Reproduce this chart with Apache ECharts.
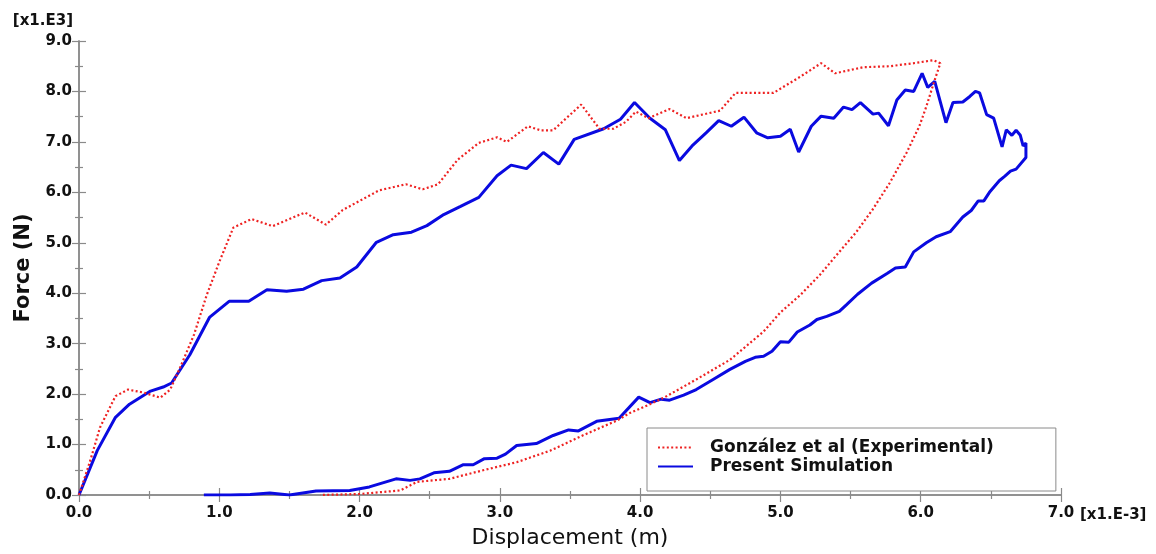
<!DOCTYPE html>
<html>
<head>
<meta charset="utf-8">
<title>Force - Displacement</title>
<script src="https://cdn.jsdelivr.net/npm/echarts@6/dist/echarts.min.js"></script>
<style>
  html, body { margin: 0; padding: 0; background: #fff; }
  #chart { width: 1156px; height: 554px; }
</style>
</head>
<body>
<div id="chart"></div>
<script>
// displacement in 1e-3 m, force in 1e3 N (path order, the curves loop back)
var expDisp = [0.00, 0.08, 0.15, 0.26, 0.35, 0.46, 0.58, 0.65, 0.72, 0.82, 0.91, 1.00, 1.10, 1.23, 1.38, 1.61, 1.76, 1.88,
  2.14, 2.33, 2.45, 2.56, 2.70, 2.85, 2.98, 3.05, 3.20, 3.29, 3.38, 3.58, 3.71, 3.81, 3.90, 3.97, 4.06, 4.21, 4.33,
  4.57, 4.68, 4.95, 5.14, 5.29, 5.39, 5.59, 5.78, 5.95, 6.09, 6.14,
  6.10, 6.04, 5.99, 5.90, 5.78, 5.66, 5.54, 5.42, 5.28, 5.14, 5.00, 4.88, 4.64, 4.40, 4.17, 4.07, 3.93, 3.83,
  3.59, 3.36, 3.12, 2.88, 2.64, 2.41, 2.29, 2.00, 1.72]
var expForce = [0.00, 0.68, 1.34, 1.96, 2.09, 2.03, 1.93, 2.09, 2.52, 3.18, 3.96, 4.62, 5.30, 5.47, 5.33, 5.60, 5.36, 5.65,
  6.04, 6.16, 6.06, 6.16, 6.65, 6.98, 7.09, 7.00, 7.31, 7.23, 7.23, 7.74, 7.26, 7.26, 7.40, 7.60, 7.47, 7.65, 7.47,
  7.62, 7.97, 7.97, 8.29, 8.56, 8.36, 8.48, 8.50, 8.56, 8.62, 8.56,
  8.23, 7.70, 7.31, 6.79, 6.19, 5.67, 5.21, 4.82, 4.36, 3.96, 3.62, 3.24, 2.68, 2.29, 1.93, 1.80, 1.63, 1.47,
  1.18, 0.88, 0.65, 0.49, 0.32, 0.26, 0.09, 0.02, 0.00]

var simDisp = [0.00, 0.13, 0.26, 0.36, 0.51, 0.60, 0.66, 0.79, 0.93, 1.07, 1.21, 1.34, 1.48, 1.60, 1.73, 1.86, 1.98,
  2.12, 2.24, 2.37, 2.48, 2.60, 2.72, 2.85, 2.98, 3.08, 3.19, 3.31, 3.42, 3.53, 3.74, 3.86, 3.96, 4.07, 4.18, 4.28,
  4.37, 4.47, 4.56, 4.65, 4.74, 4.83, 4.91, 5.00, 5.07, 5.13, 5.22, 5.29, 5.38, 5.45, 5.51, 5.57, 5.66, 5.70, 5.77,
  5.83, 5.89, 5.95, 6.01, 6.05, 6.10, 6.18, 6.23, 6.30, 6.35, 6.39, 6.42, 6.47, 6.52, 6.58, 6.61, 6.65, 6.68, 6.71,
  6.73, 6.75, 6.75,
  6.74, 6.68, 6.64, 6.60, 6.56, 6.49, 6.45, 6.41, 6.36, 6.30, 6.21, 6.11, 6.04, 5.95, 5.89, 5.82, 5.76, 5.65, 5.55,
  5.47, 5.42, 5.33, 5.26, 5.21, 5.12, 5.06, 5.00, 4.94, 4.88, 4.82, 4.75, 4.64, 4.52, 4.40, 4.31, 4.21, 4.15, 4.07,
  3.99, 3.85, 3.69, 3.56, 3.49, 3.38, 3.26, 3.12, 3.04, 2.98, 2.89, 2.81, 2.74, 2.64, 2.53, 2.43, 2.36, 2.26, 2.07,
  1.93, 1.69, 1.50, 1.36, 1.22, 1.08, 0.89]
var simForce = [0.00, 0.88, 1.54, 1.80, 2.06, 2.14, 2.22, 2.78, 3.52, 3.84, 3.84, 4.07, 4.04, 4.08, 4.25, 4.30, 4.52,
  5.01, 5.16, 5.21, 5.34, 5.56, 5.72, 5.90, 6.33, 6.54, 6.47, 6.79, 6.56, 7.05, 7.26, 7.45, 7.78, 7.47, 7.24, 6.63,
  6.92, 7.18, 7.42, 7.31, 7.49, 7.18, 7.08, 7.11, 7.25, 6.80, 7.31, 7.51, 7.47, 7.69, 7.64, 7.78, 7.55, 7.57, 7.32,
  7.83, 8.03, 8.00, 8.36, 8.08, 8.20, 7.38, 7.78, 7.79, 7.90, 8.00, 7.97, 7.54, 7.47, 6.90, 7.24, 7.13, 7.23, 7.13,
  6.92, 6.98, 6.69,
  6.69, 6.46, 6.42, 6.32, 6.23, 6.00, 5.83, 5.83, 5.64, 5.51, 5.22, 5.12, 5.00, 4.82, 4.52, 4.50, 4.39, 4.20, 3.98,
  3.77, 3.64, 3.54, 3.48, 3.37, 3.23, 3.03, 3.04, 2.85, 2.75, 2.73, 2.65, 2.49, 2.29, 2.09, 1.98, 1.88, 1.90, 1.83,
  1.94, 1.52, 1.46, 1.27, 1.29, 1.18, 1.02, 0.98, 0.81, 0.73, 0.72, 0.60, 0.60, 0.47, 0.44, 0.32, 0.29, 0.32, 0.16,
  0.09, 0.08, 0.00, 0.04, 0.01, 0.00, 0.00]

var seriesNames = ['González et al (Experimental)', 'Present Simulation']

function pairs (xs, ys) {
  return xs.map(function (x, i) { return [x, ys[i]] })
}

var FONT = 'DejaVu Sans'
var AXIS_GRAY = '#8a8a8a'

function frameAxis (extra) {
  var base = {
    type: 'value',
    axisLine: { show: true, lineStyle: { color: AXIS_GRAY, width: 1.5 } },
    axisTick: { show: true, inside: true, length: 7, lineStyle: { color: AXIS_GRAY, width: 1.2 } },
    minorTick: { show: true, splitNumber: 2, length: 4, lineStyle: { color: AXIS_GRAY, width: 1.2 } },
    splitLine: { show: false },
    minorSplitLine: { show: false },
    axisLabel: {
      color: '#111',
      fontFamily: FONT,
      fontWeight: 'bold',
      fontSize: 15,
      formatter: function (v) { return v.toFixed(1) }
    }
  }
  return Object.assign(base, extra)
}

var chart = echarts.init(document.getElementById('chart'))
chart.setOption({
  animation: false,
  backgroundColor: '#fff',
  grid: { left: 79, right: 95, top: 41, bottom: 56 },
  xAxis: [
    frameAxis({
      min: 0, max: 7, interval: 1,
      name: 'Displacement (m)',
      nameLocation: 'middle',
      nameGap: 32,
      nameTextStyle: { fontFamily: FONT, fontSize: 22, color: '#111' },
      axisLabel: {
        color: '#111', fontFamily: FONT, fontWeight: 'bold', fontSize: 15, margin: 11,
        formatter: function (v) { return v.toFixed(1) }
      }
    }),
    frameAxis({ min: 0, max: 7, interval: 1, position: 'top', axisLabel: { show: false } })
  ],
  yAxis: [
    frameAxis({
      min: 0, max: 9, interval: 1,
      name: 'Force (N)',
      nameLocation: 'middle',
      nameGap: 44,
      nameTextStyle: { fontFamily: FONT, fontSize: 21, fontWeight: 'bold', color: '#111' },
      axisLabel: {
        color: '#111', fontFamily: FONT, fontWeight: 'bold', fontSize: 15, margin: 7,
        formatter: function (v) { return v.toFixed(1) }
      }
    }),
    frameAxis({ min: 0, max: 9, interval: 1, position: 'right', axisLabel: { show: false } })
  ],
  legend: {
    orient: 'vertical',
    left: 647,
    top: 428,
    padding: [10, 62, 15, 10],
    itemGap: 0,
    itemWidth: 35,
    itemHeight: 12,
    backgroundColor: '#fff',
    borderColor: AXIS_GRAY,
    borderWidth: 1,
    borderRadius: 0,
    itemStyle: { opacity: 0 }, // line sample only, no marker
    textStyle: {
      fontFamily: FONT, fontWeight: 'bold', fontSize: 17, color: '#111',
      lineHeight: 19, padding: [0, 0, 0, 12]
    },
    data: seriesNames
  },
  graphic: [
    {
      type: 'text', right: 1156 - 73, top: 14,
      style: { text: '[x1.E3]', font: 'bold 15px "DejaVu Sans"', fill: '#111' }
    },
    {
      type: 'text', left: 1080, top: 508,
      style: { text: '[x1.E-3]', font: 'bold 15px "DejaVu Sans"', fill: '#111' }
    }
  ],
  series: [
    {
      name: seriesNames[0],
      type: 'line',
      data: pairs(expDisp, expForce),
      showSymbol: false,
      symbol: 'none',
      z: 3,
      lineStyle: { color: '#ee2222', width: 2.2, type: [2, 2.4] },
      itemStyle: { color: '#ee2222' }
    },
    {
      name: seriesNames[1],
      type: 'line',
      data: pairs(simDisp, simForce),
      showSymbol: false,
      symbol: 'none',
      z: 2,
      lineStyle: { color: '#0a0ae0', width: 3 },
      itemStyle: { color: '#0a0ae0' }
    }
  ]
})
</script>
</body>
</html>
